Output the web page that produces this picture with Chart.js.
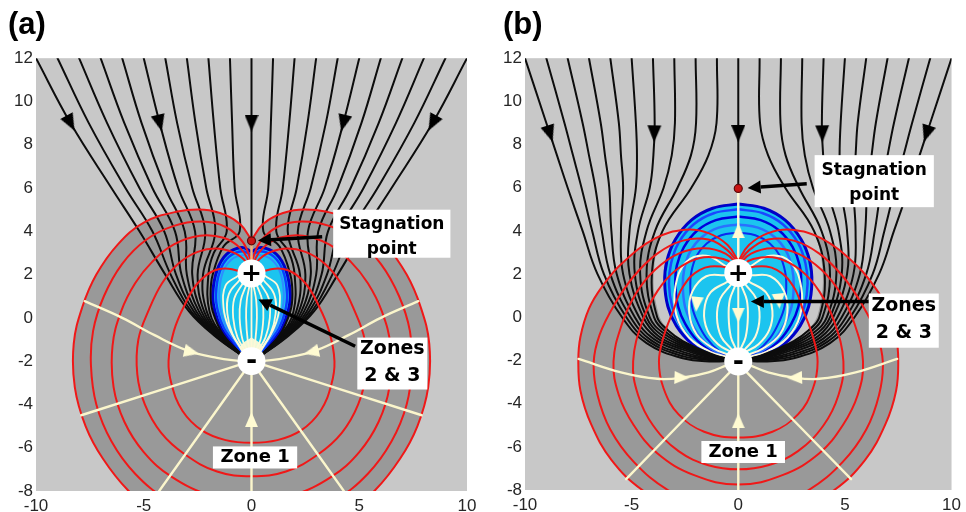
<!DOCTYPE html>
<html><head><meta charset="utf-8">
<script src="https://cdn.jsdelivr.net/npm/chart.js@4.4.1/dist/chart.umd.min.js"></script>
<style>
html,body{margin:0;padding:0;background:#fff;}
#wrap{position:relative;width:966px;height:512px;overflow:hidden;}
canvas{position:absolute;top:0;}
#ca{left:0}
#cb{left:483px}
</style></head><body>
<div id="wrap"><canvas id="ca" width="483" height="512"></canvas><canvas id="cb" width="483" height="512"></canvas></div>
<script>
// ---------- tick labels ----------
const xTickValues = [-10,-5,0,5,10];
const yTickValues = [-8,-6,-4,-2,0,2,4,6,8,10,12];
const panelTitles = ['(a)','(b)'];

// ---------- charges / stagnation ----------
const sourceSinkA = [[0,2.05],[0,-2.0]];
const sourceSinkB = [[0,2.05],[0,-2.05]];
const stagnationA = [[0,3.56]];
const stagnationB = [[0,5.97]];

// ---------- panel (a) streamlines (black, uniform flow) ----------
const blackA = [
 [[-10,12],[-8.4,9],[-6.5,6],[-5.2,4],[-4.0,2],[-2.9,0.3],[-1.75,-0.8],[-0.3,-1.85]],
 [[-9,12],[-7.55,9],[-5.85,6],[-4.6,4],[-3.75,2],[-2.8,0.3],[-1.7,-0.8],[-0.3,-1.85]],
 [[-8,12],[-6.7,9],[-5.2,6],[-4.05,4],[-3.5,2],[-2.68,0.3],[-1.65,-0.8],[-0.3,-1.85]],
 [[-7,12],[-5.9,9],[-4.6,6],[-3.55,4],[-3.25,2],[-2.56,0.3],[-1.6,-0.8],[-0.3,-1.85]],
 [[-6,12],[-5.1,9],[-4.0,6],[-3.1,4],[-3.0,2],[-2.44,0.3],[-1.55,-0.8],[-0.3,-1.85]],
 [[-5,12],[-4.26,9],[-3.4,6],[-2.62,4],[-2.75,2],[-2.32,0.3],[-1.5,-0.8],[-0.3,-1.85]],
 [[-4,12],[-3.45,9],[-2.75,6],[-2.15,4],[-2.5,2],[-2.2,0.3],[-1.45,-0.8],[-0.3,-1.85]],
 [[-3,12],[-2.6,9],[-2.1,6],[-1.68,4],[-2.25,2],[-2.08,0.3],[-1.4,-0.8],[-0.3,-1.85]],
 [[-2,12],[-1.75,9],[-1.45,6],[-1.15,4],[-1.75,3.0],[-2.0,2],[-1.95,0.3],[-1.35,-0.8],[-0.3,-1.85]],
 [[-1,12],[-0.9,9],[-0.78,6],[-0.55,4.0],[-1.3,3.3],[-1.8,2.0],[-1.9,1.1],[-1.8,0.3],[-1.3,-0.8],[-0.3,-1.85]],
 [[0,12],[0,3.6]],
 [[1,12],[0.9,9],[0.78,6],[0.55,4.0],[1.3,3.3],[1.8,2.0],[1.9,1.1],[1.8,0.3],[1.3,-0.8],[0.3,-1.85]],
 [[2,12],[1.75,9],[1.45,6],[1.15,4],[1.75,3.0],[2.0,2],[1.95,0.3],[1.35,-0.8],[0.3,-1.85]],
 [[3,12],[2.6,9],[2.1,6],[1.68,4],[2.25,2],[2.08,0.3],[1.4,-0.8],[0.3,-1.85]],
 [[4,12],[3.45,9],[2.75,6],[2.15,4],[2.5,2],[2.2,0.3],[1.45,-0.8],[0.3,-1.85]],
 [[5,12],[4.26,9],[3.4,6],[2.62,4],[2.75,2],[2.32,0.3],[1.5,-0.8],[0.3,-1.85]],
 [[6,12],[5.1,9],[4.0,6],[3.1,4],[3.0,2],[2.44,0.3],[1.55,-0.8],[0.3,-1.85]],
 [[7,12],[5.9,9],[4.6,6],[3.55,4],[3.25,2],[2.56,0.3],[1.6,-0.8],[0.3,-1.85]],
 [[8,12],[6.7,9],[5.2,6],[4.05,4],[3.5,2],[2.68,0.3],[1.65,-0.8],[0.3,-1.85]],
 [[9,12],[7.55,9],[5.85,6],[4.6,4],[3.75,2],[2.8,0.3],[1.7,-0.8],[0.3,-1.85]],
 [[10,12],[8.4,9],[6.5,6],[5.2,4],[4.0,2],[2.9,0.3],[1.75,-0.8],[0.3,-1.85]]
];

// ---------- panel (a) red contours ----------
const redA = [
 [[0,1.9],[-0.9,2.25],[-1.7,2.2],[-2.5,1.6],[-3.1,0.6],[-3.6,-0.6],[-3.85,-2.0],[-3.7,-3.1],[-3.2,-4.3],[-2.3,-5.2],[-1.2,-5.65],[0,-5.77],[1.2,-5.65],[2.3,-5.2],[3.2,-4.3],[3.7,-3.1],[3.85,-2.0],[3.6,-0.6],[3.1,0.6],[2.5,1.6],[1.7,2.2],[0.9,2.25],[0,1.9]],
 [[0,2.3],[-0.6,2.9],[-1.5,3.2],[-2.5,3.05],[-3.4,2.5],[-4.15,1.6],[-4.75,0.4],[-5.25,-1.0],[-5.3,-2.6],[-4.95,-4.0],[-4.2,-5.3],[-3.1,-6.3],[-1.6,-7.1],[0,-7.32],[1.6,-7.1],[3.1,-6.3],[4.2,-5.3],[4.95,-4.0],[5.3,-2.6],[5.25,-1.0],[4.75,0.4],[4.15,1.6],[3.4,2.5],[2.5,3.05],[1.5,3.2],[0.6,2.9],[0,2.3]],
 [[0,2.4],[-0.5,3.2],[-1.3,3.7],[-2.4,3.8],[-3.6,3.4],[-4.6,2.6],[-5.4,1.6],[-6.05,0.3],[-6.45,-1.3],[-6.4,-3.2],[-5.9,-4.8],[-5.0,-6.2],[-3.7,-7.35],[-1.9,-8.2],[0,-8.5],[1.9,-8.2],[3.7,-7.35],[5.0,-6.2],[5.9,-4.8],[6.4,-3.2],[6.45,-1.3],[6.05,0.3],[5.4,1.6],[4.6,2.6],[3.6,3.4],[2.4,3.8],[1.3,3.7],[0.5,3.2],[0,2.4]],
 [[0,2.6],[-0.4,3.5],[-1.2,4.2],[-2.3,4.45],[-3.6,4.25],[-4.9,3.6],[-6.0,2.5],[-6.85,1.0],[-7.35,-0.6],[-7.45,-2.2],[-7.2,-4.0],[-6.5,-5.7],[-5.4,-7.2],[-3.9,-8.4],[-2.0,-9.2],[0,-9.5],[2.0,-9.2],[3.9,-8.4],[5.4,-7.2],[6.5,-5.7],[7.2,-4.0],[7.45,-2.2],[7.35,-0.6],[6.85,1.0],[6.0,2.5],[4.9,3.6],[3.6,4.25],[2.3,4.45],[1.2,4.2],[0.4,3.5],[0,2.6]],
 [[0,3.6],[-0.5,4.3],[-1.2,4.75],[-2.2,5.0],[-3.5,4.9],[-5.0,4.4],[-6.2,3.4],[-7.2,2.0],[-7.85,0.5],[-8.25,-1.2],[-8.2,-3.2],[-7.7,-5.0],[-6.9,-6.5],[-5.7,-8.0],[-4.3,-9.1],[-2.2,-10.0],[0,-10.3],[2.2,-10.0],[4.3,-9.1],[5.7,-8.0],[6.9,-6.5],[7.7,-5.0],[8.2,-3.2],[8.25,-1.2],[7.85,0.5],[7.2,2.0],[6.2,3.4],[5.0,4.4],[3.5,4.9],[2.2,5.0],[1.2,4.75],[0.5,4.3],[0,3.6]]
];

// ---------- panel (a) zones 2 & 3 (teardrop) ----------
const blueA = [
 [[0,3.05],[-0.45,3.25],[-1.15,2.95],[-1.6,2.2],[-1.8,1.1],[-1.7,0.3],[-1.4,-0.5],[-0.95,-1.1],[-0.55,-1.55],[0,-2.0],[0.55,-1.55],[0.95,-1.1],[1.4,-0.5],[1.7,0.3],[1.8,1.1],[1.6,2.2],[1.15,2.95],[0.45,3.25],[0,3.05]],
 [[0,2.9],[-0.42,3.08],[-1.05,2.82],[-1.47,2.15],[-1.65,1.1],[-1.56,0.3],[-1.28,-0.48],[-0.86,-1.07],[-0.5,-1.52],[0,-2.0],[0.5,-1.52],[0.86,-1.07],[1.28,-0.48],[1.56,0.3],[1.65,1.1],[1.47,2.15],[1.05,2.82],[0.42,3.08],[0,2.9]],
 [[0,2.75],[-0.38,2.9],[-0.95,2.68],[-1.34,2.08],[-1.5,1.1],[-1.42,0.3],[-1.16,-0.45],[-0.78,-1.03],[-0.45,-1.5],[0,-2.0],[0.45,-1.5],[0.78,-1.03],[1.16,-0.45],[1.42,0.3],[1.5,1.1],[1.34,2.08],[0.95,2.68],[0.38,2.9],[0,2.75]]
];
const glowA = [[0,-0.9],[-0.5,-1.3],[-0.45,-1.75],[0,-2.05],[0.45,-1.75],[0.5,-1.3],[0,-0.9]];
const creamInA = [
 [[-0.1,1.45],[-0.22,0.8],[-0.25,0],[-0.18,-1.0],[-0.06,-1.6]],
 [[-0.25,1.5],[-0.5,0.8],[-0.55,0],[-0.42,-1.0],[-0.15,-1.6]],
 [[-0.4,1.6],[-0.8,0.9],[-0.85,0],[-0.65,-0.9],[-0.25,-1.6]],
 [[-0.55,1.75],[-1.05,1.1],[-1.12,0.2],[-0.88,-0.75],[-0.35,-1.6]],
 [[-0.62,1.95],[-1.2,1.5],[-1.3,0.5],[-1.05,-0.45],[-0.45,-1.5]],
 [[0,1.4],[0,-1.4]],
 [[0.1,1.45],[0.22,0.8],[0.25,0],[0.18,-1.0],[0.06,-1.6]],
 [[0.25,1.5],[0.5,0.8],[0.55,0],[0.42,-1.0],[0.15,-1.6]],
 [[0.4,1.6],[0.8,0.9],[0.85,0],[0.65,-0.9],[0.25,-1.6]],
 [[0.55,1.75],[1.05,1.1],[1.12,0.2],[0.88,-0.75],[0.35,-1.6]],
 [[0.62,1.95],[1.2,1.5],[1.3,0.5],[1.05,-0.45],[0.45,-1.5]]
];
const upLineA = [[0,2.65],[0,3.5]];
// ---------- panel (a) zone 1 streamlines ----------
const creamOutA = [
 [[-7.74,0.77],[-6.0,0.0],[-4.5,-0.8],[-3.0,-1.5],[-1.6,-1.85],[-0.5,-2.0]],
 [[7.74,0.77],[6.0,0.0],[4.5,-0.8],[3.0,-1.5],[1.6,-1.85],[0.5,-2.0]],
 [[-7.9,-4.5],[-0.5,-2.15]],
 [[7.9,-4.5],[0.5,-2.15]],
 [[-0.35,-2.5],[-4.5,-8.3]],
 [[0.35,-2.5],[4.5,-8.3]],
 [[0,-2.6],[0,-8.5]]
];
const blackArrowsA = [[-8.4,9],[-4.26,9],[0,9],[4.26,9],[8.4,9]];
const blackArrowRotA = [152,166,180,194,208];
const creamArrowsA = [[-2.78,-1.58],[2.78,-1.58],[0,-4.7]];
const creamArrowRotA = [103,257,0];

// ---------- panel (b) streamlines (black) ----------
const blackB = [
 [[-10,12],[-9.0,9],[-8.5,7.5],[-8.0,6],[-7.3,4],[-6.6,2],[-5.45,0],[-4.3,-1.2],[-2.6,-1.9],[-1.2,-2.05],[-0.4,-2.02]],
 [[-9,12],[-8.15,9],[-7.75,7.5],[-7.35,6],[-6.85,4],[-6.3,2],[-5.25,0],[-4.19,-1.13],[-2.6,-1.8],[-1.2,-2.0],[-0.4,-2.02]],
 [[-8,12],[-7.3,9],[-7.0,7.5],[-6.7,6],[-6.4,4],[-6.0,2],[-5.05,0],[-4.08,-1.07],[-2.6,-1.7],[-1.2,-1.97],[-0.4,-2.0]],
 [[-7,12],[-6.45,9],[-6.25,7.5],[-6.05,6],[-5.95,4],[-5.7,2],[-4.85,0],[-3.97,-1.0],[-2.6,-1.6],[-1.2,-1.93],[-0.4,-2.0]],
 [[-6,12],[-5.6,9],[-5.5,7.5],[-5.4,6],[-5.5,4],[-5.4,2],[-4.65,0],[-3.86,-0.93],[-2.6,-1.5],[-1.2,-1.9],[-0.4,-1.98]],
 [[-5,12],[-4.8,9],[-4.75,7.5],[-4.8,6],[-5.1,4],[-5.1,2],[-4.45,0],[-3.75,-0.87],[-2.6,-1.42],[-1.2,-1.86],[-0.4,-1.98]],
 [[-4,12],[-3.92,9],[-3.98,7.5],[-4.15,6],[-4.7,4],[-4.85,2],[-4.3,0],[-3.63,-0.8],[-2.6,-1.34],[-1.2,-1.83],[-0.4,-1.97]],
 [[-3,12],[-2.97,9],[-3.12,7.5],[-3.5,6],[-4.3,4],[-4.6,2],[-4.15,0],[-3.52,-0.73],[-2.6,-1.26],[-1.2,-1.8],[-0.4,-1.96]],
 [[-2,12],[-1.98,9],[-2.22,7.5],[-2.85,6],[-3.9,4],[-4.3,2],[-3.95,0],[-3.41,-0.67],[-2.6,-1.18],[-1.2,-1.76],[-0.4,-1.95]],
 [[-1,12],[-1.02,9],[-1.4,7.5],[-2.2,6],[-3.55,4],[-4.05,2],[-3.8,0],[-3.3,-0.6],[-2.6,-1.1],[-1.2,-1.72],[-0.4,-1.95]],
 [[0,12],[0,6.0]],
 [[1,12],[1.02,9],[1.4,7.5],[2.2,6],[3.55,4],[4.05,2],[3.8,0],[3.3,-0.6],[2.6,-1.1],[1.2,-1.72],[0.4,-1.95]],
 [[2,12],[1.98,9],[2.22,7.5],[2.85,6],[3.9,4],[4.3,2],[3.95,0],[3.41,-0.67],[2.6,-1.18],[1.2,-1.76],[0.4,-1.95]],
 [[3,12],[2.97,9],[3.12,7.5],[3.5,6],[4.3,4],[4.6,2],[4.15,0],[3.52,-0.73],[2.6,-1.26],[1.2,-1.8],[0.4,-1.96]],
 [[4,12],[3.92,9],[3.98,7.5],[4.15,6],[4.7,4],[4.85,2],[4.3,0],[3.63,-0.8],[2.6,-1.34],[1.2,-1.83],[0.4,-1.97]],
 [[5,12],[4.8,9],[4.75,7.5],[4.8,6],[5.1,4],[5.1,2],[4.45,0],[3.75,-0.87],[2.6,-1.42],[1.2,-1.86],[0.4,-1.98]],
 [[6,12],[5.6,9],[5.5,7.5],[5.4,6],[5.5,4],[5.4,2],[4.65,0],[3.86,-0.93],[2.6,-1.5],[1.2,-1.9],[0.4,-1.98]],
 [[7,12],[6.45,9],[6.25,7.5],[6.05,6],[5.95,4],[5.7,2],[4.85,0],[3.97,-1.0],[2.6,-1.6],[1.2,-1.93],[0.4,-2.0]],
 [[8,12],[7.3,9],[7.0,7.5],[6.7,6],[6.4,4],[6.0,2],[5.05,0],[4.08,-1.07],[2.6,-1.7],[1.2,-1.97],[0.4,-2.0]],
 [[9,12],[8.15,9],[7.75,7.5],[7.35,6],[6.85,4],[6.3,2],[5.25,0],[4.19,-1.13],[2.6,-1.8],[1.2,-2.0],[0.4,-2.02]],
 [[10,12],[9.0,9],[8.5,7.5],[8.0,6],[7.3,4],[6.6,2],[5.45,0],[4.3,-1.2],[2.6,-1.9],[1.2,-2.05],[0.4,-2.02]]
];

// ---------- panel (b) red contours ----------
const redB = [
 [[0,2.1],[-0.8,2.35],[-1.8,2.2],[-2.6,1.4],[-3.05,0.3],[-3.5,-0.9],[-3.72,-2.05],[-3.5,-3.3],[-2.8,-4.5],[-1.6,-5.3],[0,-5.57],[1.6,-5.3],[2.8,-4.5],[3.5,-3.3],[3.72,-2.05],[3.5,-0.9],[3.05,0.3],[2.6,1.4],[1.8,2.2],[0.8,2.35],[0,2.1]],
 [[0,2.3],[-0.7,2.7],[-1.8,2.75],[-2.9,2.2],[-3.8,1.2],[-4.5,-0.2],[-4.93,-2.05],[-4.7,-3.6],[-4.0,-5.0],[-2.8,-6.2],[-1.4,-6.85],[0,-7.04],[1.4,-6.85],[2.8,-6.2],[4.0,-5.0],[4.7,-3.6],[4.93,-2.05],[4.5,-0.2],[3.8,1.2],[2.9,2.2],[1.8,2.75],[0.7,2.7],[0,2.3]],
 [[0,2.4],[-0.6,2.95],[-1.6,3.2],[-2.8,2.95],[-3.9,2.2],[-4.8,1.1],[-5.45,-0.3],[-5.85,-2.05],[-5.6,-3.6],[-4.9,-5.0],[-3.8,-6.3],[-2.1,-7.3],[0,-7.75],[2.1,-7.3],[3.8,-6.3],[4.9,-5.0],[5.6,-3.6],[5.85,-2.05],[5.45,-0.3],[4.8,1.1],[3.9,2.2],[2.8,2.95],[1.6,3.2],[0.6,2.95],[0,2.4]],
 [[0,2.5],[-0.5,3.1],[-1.4,3.6],[-2.6,3.55],[-3.8,2.95],[-4.9,1.9],[-5.8,0.6],[-6.5,-0.8],[-6.78,-2.1],[-6.6,-3.6],[-6.0,-5.2],[-4.9,-6.7],[-3.3,-8.0],[-1.7,-8.6],[0,-8.8],[1.7,-8.6],[3.3,-8.0],[4.9,-6.7],[6.0,-5.2],[6.6,-3.6],[6.78,-2.1],[6.5,-0.8],[5.8,0.6],[4.9,1.9],[3.8,2.95],[2.6,3.55],[1.4,3.6],[0.5,3.1],[0,2.5]],
 [[0,2.6],[-0.5,3.35],[-1.4,3.9],[-2.5,4.05],[-3.9,3.65],[-5.45,2.5],[-6.4,1.4],[-7.0,0.4],[-7.4,-0.9],[-7.5,-2.0],[-7.4,-3.4],[-6.9,-4.95],[-5.95,-6.6],[-4.5,-8.0],[-2.4,-9.15],[0,-9.55],[2.4,-9.15],[4.5,-8.0],[5.95,-6.6],[6.9,-4.95],[7.4,-3.4],[7.5,-2.0],[7.4,-0.9],[7.0,0.4],[6.4,1.4],[5.45,2.5],[3.9,3.65],[2.5,4.05],[1.4,3.9],[0.5,3.35],[0,2.6]]
];
const holeB = [[0,6.0],[-1.2,5.95],[-2.2,5.6],[-3.45,4.1],[-3.95,2.2],[-3.75,0.2],[-3.25,-0.6],[-2.6,-1.1],[-1.2,-1.72],[0,-2.0],[1.2,-1.72],[2.6,-1.1],[3.25,-0.6],[3.75,0.2],[3.95,2.2],[3.45,4.1],[2.2,5.6],[1.2,5.95],[0,6.0]];
const blueB = [
 [[0,5.25],[-1.2,5.05],[-2.2,4.5],[-2.95,3.6],[-3.35,2.6],[-3.45,1.6],[-3.3,0.5],[-2.9,-0.4],[-2.2,-1.2],[-1.2,-1.8],[0,-2.05],[1.2,-1.8],[2.2,-1.2],[2.9,-0.4],[3.3,0.5],[3.45,1.6],[3.35,2.6],[2.95,3.6],[2.2,4.5],[1.2,5.05],[0,5.25]],
 [[0,5.0],[-1.15,4.82],[-2.1,4.3],[-2.8,3.45],[-3.15,2.5],[-3.25,1.55],[-3.1,0.5],[-2.72,-0.38],[-2.08,-1.15],[-1.15,-1.75],[0,-2.05],[1.15,-1.75],[2.08,-1.15],[2.72,-0.38],[3.1,0.5],[3.25,1.55],[3.15,2.5],[2.8,3.45],[2.1,4.3],[1.15,4.82],[0,5.0]],
 [[0,4.67],[-1.05,4.5],[-1.92,4.02],[-2.55,3.25],[-2.88,2.4],[-2.95,1.5],[-2.82,0.5],[-2.48,-0.32],[-1.92,-1.08],[-1.05,-1.7],[0,-2.05],[1.05,-1.7],[1.92,-1.08],[2.48,-0.32],[2.82,0.5],[2.95,1.5],[2.88,2.4],[2.55,3.25],[1.92,4.02],[1.05,4.5],[0,4.67]],
 [[0,4.3],[-0.92,4.15],[-1.7,3.72],[-2.25,3.05],[-2.53,2.25],[-2.6,1.45],[-2.5,0.5],[-2.2,-0.25],[-1.72,-1.0],[-0.95,-1.65],[0,-2.05],[0.95,-1.65],[1.72,-1.0],[2.2,-0.25],[2.5,0.5],[2.6,1.45],[2.53,2.25],[2.25,3.05],[1.7,3.72],[0.92,4.15],[0,4.3]],
 [[0,3.93],[-0.8,3.8],[-1.48,3.42],[-1.95,2.85],[-2.2,2.1],[-2.25,1.4],[-2.17,0.5],[-1.92,-0.2],[-1.5,-0.95],[-0.85,-1.6],[0,-2.05],[0.85,-1.6],[1.5,-0.95],[1.92,-0.2],[2.17,0.5],[2.25,1.4],[2.2,2.1],[1.95,2.85],[1.48,3.42],[0.8,3.8],[0,3.93]]
];
const creamInB = [
 [[-0.15,1.45],[-0.4,0.8],[-0.45,0],[-0.35,-0.9],[-0.12,-1.45]],
 [[-0.35,1.5],[-0.85,0.85],[-1.0,0],[-0.8,-0.9],[-0.3,-1.5]],
 [[-0.5,1.65],[-1.3,1.15],[-1.6,0.3],[-1.45,-0.6],[-0.95,-1.25],[-0.35,-1.6]],
 [[-0.6,1.95],[-1.5,1.9],[-2.15,1.2],[-2.3,0.2],[-1.95,-0.8],[-1.15,-1.45],[-0.4,-1.75]],
 [[-0.55,2.35],[-1.5,2.85],[-2.45,2.55],[-2.95,1.4],[-2.9,0.1],[-2.3,-0.95],[-1.3,-1.6],[-0.45,-1.85]],
 [[0,1.4],[0,-1.4]],
 [[0.15,1.45],[0.4,0.8],[0.45,0],[0.35,-0.9],[0.12,-1.45]],
 [[0.35,1.5],[0.85,0.85],[1.0,0],[0.8,-0.9],[0.3,-1.5]],
 [[0.5,1.65],[1.3,1.15],[1.6,0.3],[1.45,-0.6],[0.95,-1.25],[0.35,-1.6]],
 [[0.6,1.95],[1.5,1.9],[2.15,1.2],[2.3,0.2],[1.95,-0.8],[1.15,-1.45],[0.4,-1.75]],
 [[0.55,2.35],[1.5,2.85],[2.45,2.55],[2.95,1.4],[2.9,0.1],[2.3,-0.95],[1.3,-1.6],[0.45,-1.85]]
];
const upLineB = [[0,2.7],[0,5.85]];
const creamOutB = [
 [[-7.49,-1.93],[-5.5,-2.55],[-3.8,-2.85],[-2.64,-2.8],[-1.4,-2.55],[-0.5,-2.2]],
 [[7.45,-1.93],[5.5,-2.55],[3.8,-2.85],[2.64,-2.8],[1.4,-2.55],[0.5,-2.2]],
 [[-0.4,-2.55],[-5.26,-7.5]],
 [[0.4,-2.55],[5.29,-7.5]],
 [[0,-2.7],[0,-8.5]]
];
const blackArrowsB = [[-8.83,8.5],[-3.94,8.5],[0,8.5],[3.94,8.5],[8.83,8.5]];
const blackArrowRotB = [162,181,180,179,198];
const creamArrowsB = [[-2.64,-2.8],[2.64,-2.8],[0,-4.8],[0,4.0],[-1.95,0.6],[0,0.1],[1.9,0.75]];
const creamArrowRotB = [92,268,0,0,185,180,175];

// ---------- annotations (text, in data units) ----------
const notesA = {
 boxes:[
  {lines:['Stagnation','point'], x0:3.79, y0:5.0, x1:9.23, y1:2.78, ty:[4.31,3.15], size:17},
  {lines:['Zones','2 & 3'], x0:4.91, y0:-0.91, x1:8.16, y1:-3.31, ty:[-1.46,-2.7], size:19},
  {lines:['Zone 1'], x0:-1.79, y0:-5.94, x1:2.12, y1:-6.96, ty:[-6.45], size:18}
 ],
 arrows:[{from:[3.28,3.75], to:[0.3,3.58]}, {from:[4.81,-1.31], to:[0.32,0.85]}],
 signs:[{t:'+', x:0, y:2.05, size:25}, {t:'-', x:0, y:-2.0, size:27}]
};
const notesB = {
 boxes:[
  {lines:['Stagnation','point'], x0:3.58, y0:7.51, x1:9.17, y1:5.10, ty:[6.81,5.65], size:17},
  {lines:['Zones','2 & 3'], x0:6.12, y0:1.1, x1:9.4, y1:-1.41, ty:[0.54,-0.71], size:19},
  {lines:['Zone 1'], x0:-1.73, y0:-5.73, x1:2.19, y1:-6.75, ty:[-6.24], size:18}
 ],
 arrows:[{from:[3.21,6.18], to:[0.44,5.99]}, {from:[6.12,0.73], to:[0.59,0.73]}],
 signs:[{t:'+', x:0, y:2.05, size:25}, {t:'-', x:0, y:-2.05, size:27}]
};

// ---------- colours ----------
const C = {
 light:'#c8c8c8', dark:'#999999', cyan:'#1cc4ef', black:'#0d0d0d', red:'#f01818',
 cream:'#fbf6cc', creamIn:'#fdf8d8', glow:'rgba(250,252,215,0.95)', orange:'#f2b27a'
};

function arrowImg(w,h,color){
 const c=document.createElement('canvas'); c.width=w; c.height=h;
 const g=c.getContext('2d'); g.fillStyle=color; g.beginPath();
 g.moveTo(w/2,0); g.lineTo(w,h); g.lineTo(0,h); g.closePath(); g.fill(); return c;
}
const blackHead = arrowImg(14,17,'#000');
const creamHead = arrowImg(13,15,'#fffbd2');

const NOTES = {};

const bgPlugin = {
 id:'plotbg',
 beforeDatasetsDraw(chart){
  const {ctx, chartArea:a} = chart;
  ctx.save(); ctx.fillStyle=C.light; ctx.fillRect(a.left,a.top,a.right-a.left,a.bottom-a.top); ctx.restore();
 }
};
const notesPlugin = {
 id:'notes',
 afterDatasetsDraw(chart){
  const n = NOTES[chart.canvas.id]; if(!n) return;
  const xs=chart.scales.x, ys=chart.scales.y, ctx=chart.ctx;
  const X=v=>xs.getPixelForValue(v), Y=v=>ys.getPixelForValue(v);
  ctx.save();
  n.arrows.forEach(a=>{
   const x1=X(a.from[0]), y1=Y(a.from[1]), x2=X(a.to[0]), y2=Y(a.to[1]);
   const ang=Math.atan2(y2-y1,x2-x1), L=13, W=6.5;
   const bx=x2-Math.cos(ang)*L, by=y2-Math.sin(ang)*L;
   ctx.strokeStyle='#000'; ctx.lineWidth=3.5; ctx.lineCap='butt';
   ctx.beginPath(); ctx.moveTo(x1,y1); ctx.lineTo(bx,by); ctx.stroke();
   ctx.fillStyle='#000'; ctx.beginPath(); ctx.moveTo(x2,y2);
   ctx.lineTo(bx+Math.sin(ang)*W, by-Math.cos(ang)*W);
   ctx.lineTo(bx-Math.sin(ang)*W, by+Math.cos(ang)*W); ctx.closePath(); ctx.fill();
  });
  n.boxes.forEach(b=>{
   ctx.fillStyle='#fff';
   ctx.fillRect(X(b.x0),Y(b.y0),X(b.x1)-X(b.x0),Y(b.y1)-Y(b.y0));
   ctx.fillStyle='#000'; ctx.font='bold '+b.size+'px "DejaVu Sans", Verdana, sans-serif';
   ctx.textAlign='center'; ctx.textBaseline='middle';
   b.lines.forEach((t,i)=>ctx.fillText(t, X((b.x0+b.x1)/2), Y(b.ty[i])));
  });
  n.signs.forEach(s=>{
   ctx.fillStyle='#000'; ctx.font='bold '+s.size+'px "DejaVu Sans", sans-serif';
   ctx.textAlign='center'; ctx.textBaseline='middle';
   ctx.fillText(s.t, X(s.x), Y(s.y)+1);
  });
  ctx.restore();
 }
};

function pts(a){ return a.map(p=>({x:p[0], y:p[1]})); }
function makeBuilder(){
 let ord = 1000; const list = [];
 return {
  list,
  line(a,color,w){ list.push({data:pts(a), borderColor:color, borderWidth:w, pointRadius:0, tension:0.4, fill:false, borderCapStyle:'round', borderJoinStyle:'round', order:ord--}); },
  shape(a,color){ list.push({data:pts(a), borderColor:'rgba(0,0,0,0)', borderWidth:0, backgroundColor:color, fill:'shape', pointRadius:0, tension:0.4, order:ord--}); },
  marks(a,style,rot,radius,color,border,bw){ list.push({data:pts(a), showLine:false, pointStyle:style, pointRotation:rot, pointRadius:radius, pointBackgroundColor:color, pointBorderColor:border||color, pointBorderWidth:bw||0, order:ord--}); }
 };
}

const tickFont = {family:'"Liberation Sans", Arial, sans-serif', size:17};
function makeChart(id, title, datasets, padL, padR, yW, xH){
 return new Chart(document.getElementById(id), {
  type:'line',
  data:{datasets},
  options:{
   responsive:false, animation:false, events:[],
   layout:{padding:{left:padL, right:padR, top:0, bottom:0}},
   plugins:{
    legend:{display:false}, tooltip:{enabled:false},
    title:{display:true, text:title, align:'start', color:'#000',
     font:{family:'"Liberation Sans", Arial, sans-serif', size:31, weight:'bold', lineHeight:1.2},
     padding:{top:7, bottom:14}}
   },
   scales:{
    x:{type:'linear', min:-10, max:10,
     afterBuildTicks:s=>{ s.ticks = xTickValues.map(v=>({value:v})); },
     afterFit:s=>{ s.height = xH; },
     grid:{display:false, drawTicks:false}, border:{display:false},
     ticks:{color:'#262626', padding:5, maxRotation:0, autoSkip:false, font:tickFont}},
    y:{type:'linear', min:-8, max:12,
     afterBuildTicks:s=>{ s.ticks = yTickValues.map(v=>({value:v})); },
     afterFit:s=>{ s.width = yW; },
     grid:{display:false, drawTicks:false}, border:{display:false},
     ticks:{color:'#262626', padding:3, autoSkip:false, font:tickFont}}
   }
  },
  plugins:[bgPlugin, notesPlugin]
 });
}

// ---------- panel (a) ----------
(function(){
 const b = makeBuilder();
 b.shape(redA[4], C.dark);
 b.shape(blueA[0], C.cyan);
 b.shape(glowA, C.glow);
 b.line(blueA[0], '#0000c8', 3);
 b.line(blueA[1], '#0a3cff', 2.5);
 b.line(blueA[2], '#2f8cff', 2);
 creamInA.forEach(l=>b.line(l, C.creamIn, 1.8));
 blackA.forEach(l=>b.line(l, C.black, 2));
 redA.forEach(l=>b.line(l, C.red, 2));
 b.line(upLineA, C.orange, 2.5);
 creamOutA.forEach(l=>b.line(l, C.cream, 2.4));
 b.marks(blackArrowsA, blackHead, blackArrowRotA, 8, '#000');
 b.marks(creamArrowsA, creamHead, creamArrowRotA, 8, '#fffbd2');
 b.marks(sourceSinkA, 'circle', 0, 14, '#ffffff');
 b.marks(stagnationA, 'circle', 0, 4, '#c81414', '#5a0a0a', 1.2);
 NOTES['ca'] = notesA;
 makeChart('ca', panelTitles[0], b.list, 8, 16, 28, 21);
})();

// ---------- panel (b) ----------
(function(){
 const b = makeBuilder();
 b.shape(redB[4], C.dark);
 b.shape(holeB, C.light);
 b.shape(blueB[0], C.cyan);
 b.line(blueB[0], '#0000c8', 3);
 b.line(blueB[1], '#1a46ff', 2.5);
 b.line(blueB[2], '#0000dc', 2.5);
 b.line(blueB[3], '#2a70ff', 2.5);
 b.line(blueB[4], '#0a2af0', 2);
 creamInB.forEach(l=>b.line(l, C.creamIn, 2));
 b.line(upLineB, C.creamIn, 2.5);
 blackB.forEach(l=>b.line(l, C.black, 2));
 redB.forEach(l=>b.line(l, C.red, 2));
 creamOutB.forEach(l=>b.line(l, C.cream, 2.4));
 b.marks(blackArrowsB, blackHead, blackArrowRotB, 8, '#000');
 b.marks(creamArrowsB, creamHead, creamArrowRotB, 8, '#fffbd2');
 b.marks(sourceSinkB, 'circle', 0, 14, '#ffffff');
 b.marks(stagnationB, 'circle', 0, 4, '#c81414', '#5a0a0a', 1.2);
 NOTES['cb'] = notesB;
 makeChart('cb', panelTitles[1], b.list, 20, 8, 22, 22);
})();
</script>
</body></html>
